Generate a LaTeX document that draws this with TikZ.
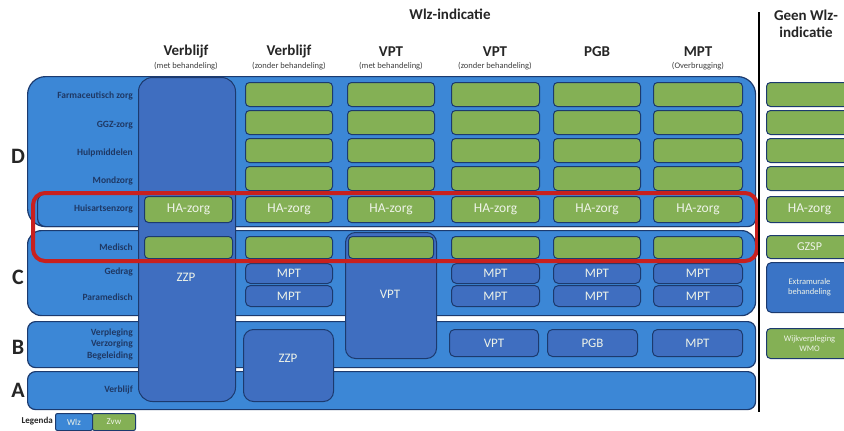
\documentclass[tikz,border=0pt]{standalone}
\usepackage{fontspec}
\setmainfont{Carlito}
\definecolor{bandblue}{HTML}{3C87D6}
\definecolor{darkbox}{HTML}{3F6EC0}
\definecolor{extrablue}{HTML}{3A74C6}
\definecolor{cellgreen}{HTML}{84B055}
\definecolor{navy}{HTML}{1C3A6E}
\definecolor{lbltext}{HTML}{1F3864}
\definecolor{redline}{HTML}{C8201E}
\definecolor{celltext}{HTML}{EEF3E8}
\tikzset{
  band/.style={draw=navy, fill=bandblue, line width=1.2pt, rounded corners=14pt, inner sep=0pt},
  dbox/.style={draw=navy, fill=darkbox, line width=1pt, rounded corners=5pt, inner sep=0pt,
    text=celltext, font=\fontsize{13}{14}\selectfont},
  gcell/.style={draw=navy, fill=cellgreen, line width=1pt, rounded corners=4pt, inner sep=0pt,
    text=celltext, font=\fontsize{13.5}{14}\selectfont},
  lbl/.style={anchor=east, inner sep=0pt, text=lbltext, font=\bfseries\fontsize{9.5}{11.5}\selectfont, align=right},
  letter/.style={inner sep=0pt, text=black!85, font=\bfseries\fontsize{22}{24}\selectfont},
  hdr/.style={inner sep=0pt, text=black!85, font=\bfseries\fontsize{15}{17}\selectfont, align=center},
  subhdr/.style={inner sep=0pt, text=black!75, font=\fontsize{8.5}{9}\selectfont},
  btext/.style={inner sep=0pt, text=celltext, font=\fontsize{13}{14}\selectfont},
  small/.style={font=\fontsize{8.5}{10}\selectfont, align=center},
}
\newcommand\bx[7]{\node[#6, anchor=north west, minimum width={(#4-#2)*1pt}, minimum height={(#5-#3)*1pt}] (#1) at (#2,#3) {#7};}
\begin{document}
\begin{tikzpicture}[x=1pt,y=-1pt]
\useasboundingbox (0,0) rectangle (844,431);
\clip (0,0) rectangle (844,431);
\fill[white] (0,0) rectangle (844,431);

% bands
\bx{bandD}{27}{76}{755}{226}{band, rounded corners=18pt}{}
\bx{rowHA}{37}{193}{755}{226}{band, rounded corners=8pt}{}
\bx{bandC}{27}{230}{755}{315}{band}{}
\bx{bandB}{27}{321}{755}{367}{band, rounded corners=8pt}{}
\bx{bandA}{27}{371}{755}{409}{band, rounded corners=8pt}{}

% big column boxes
\bx{col1}{138}{77}{235}{401}{dbox, rounded corners=14pt}{}
\bx{vpt3}{345}{232}{436}{358}{dbox, rounded corners=10pt}{}
\bx{zzp2}{243}{329}{333}{401}{dbox, rounded corners=10pt}{}
\node[btext] (zzp1t) at (186,277) {ZZP};
\node[btext] (vpt3t) at (390,294) {VPT};
\node[btext] (zzp2t) at (288,358) {ZZP};

% green cells in D rows
\foreach \xa/\xb/\c in {245/332/2,347/434/3,451/539/4,553/640/5,653/742/6,766/852/7}{
  \foreach \ya/\yb/\r in {82/106/1,110/134/2,138/162/3,166/190/4}{
    \bx{g\r\c}{\xa}{\ya}{\xb}{\yb}{gcell}{}
  }
  \bx{ha\c}{\xa}{196}{\xb}{222}{gcell}{HA-zorg}
}
\bx{ha1}{144}{196}{232}{222}{gcell}{HA-zorg}
% Medisch row
\foreach \xa/\xb/\c in {144/232/1,245/332/2,348/433/3,451/539/4,553/640/5,653/742/6}{
  \bx{med\c}{\xa}{236}{\xb}{258}{gcell}{}
}
% MPT boxes
\foreach \xa/\xb/\c in {245/332/2,451/539/4,553/640/5,653/742/6}{
  \bx{mpta\c}{\xa}{263}{\xb}{283}{dbox}{MPT}
  \bx{mptb\c}{\xa}{285}{\xb}{306}{dbox}{MPT}
}
% B row boxes
\bx{bvpt}{449}{329}{538}{356}{dbox}{VPT}
\bx{bpgb}{547}{329}{637}{356}{dbox}{PGB}
\bx{bmpt}{652}{329}{742}{356}{dbox}{MPT}

% right column extra
\bx{gzsp}{766}{235}{852}{258}{gcell, font=\fontsize{12}{13}\selectfont}{GZSP}
\bx{extra}{766}{262}{852}{312}{dbox, fill=extrablue, small}{Extramurale\\behandeling}
\bx{wijk}{766}{328}{852}{358}{gcell, small}{Wijkverpleging\\WMO}

% row labels
\node[lbl] (l1) at (133,96) {Farmaceutisch zorg};
\node[lbl] (l2) at (133,125) {GGZ-zorg};
\node[lbl] (l3) at (133,153) {Hulpmiddelen};
\node[lbl] (l4) at (133,181) {Mondzorg};
\node[lbl] (l5) at (133,209) {Huisartsenzorg};
\node[lbl] (l6) at (133,247) {Medisch};
\node[lbl] (l7) at (133,272) {Gedrag};
\node[lbl] (l8) at (133,297) {Paramedisch};
\node[lbl] (l9) at (133,344) {Verpleging\\Verzorging\\Begeleiding};
\node[lbl] (l10) at (133,390) {Verblijf};

% letters
\node[letter] (D) at (18,156) {D};
\node[letter] (C) at (18,277) {C};
\node[letter] (B) at (18,347) {B};
\node[letter] (A) at (18,390) {A};

% red highlight
\draw[redline, line width=4pt, rounded corners=12pt] (33,193) rectangle (757,261);

% divider
\draw[black, line width=2pt] (759,12) -- (759,412);

% headers
\node[hdr] (wlz) at (450,14) {Wlz-indicatie};
\node[hdr] (geen) at (806,24) {Geen Wlz-\\indicatie};
\node[hdr] (h1) at (186,52) {Verblijf};
\node[hdr] (h2) at (289,52) {Verblijf};
\node[hdr] (h3) at (391,52) {VPT};
\node[hdr] (h4) at (495,52) {VPT};
\node[hdr] (h5) at (597,52) {PGB};
\node[hdr] (h6) at (698,52) {MPT};
\node[subhdr] (s1) at (186,66) {(met behandeling)};
\node[subhdr] (s2) at (289,66) {(zonder behandeling)};
\node[subhdr] (s3) at (391,66) {(met behandeling)};
\node[subhdr] (s4) at (495,66) {(zonder behandeling)};
\node[subhdr] (s6) at (698,66) {(Overbrugging)};

% legend
\node[inner sep=0pt, anchor=east, font=\bfseries\fontsize{9}{10}\selectfont, text=black!85] (leg) at (53,421) {Legenda};
\bx{legW}{55}{413}{92}{430}{dbox, rounded corners=2pt, fill=bandblue, font=\fontsize{9}{10}\selectfont}{Wlz}
\bx{legZ}{92}{413}{135}{430}{gcell, rounded corners=2pt, font=\fontsize{9}{10}\selectfont}{Zvw}
\end{tikzpicture}
\end{document}
